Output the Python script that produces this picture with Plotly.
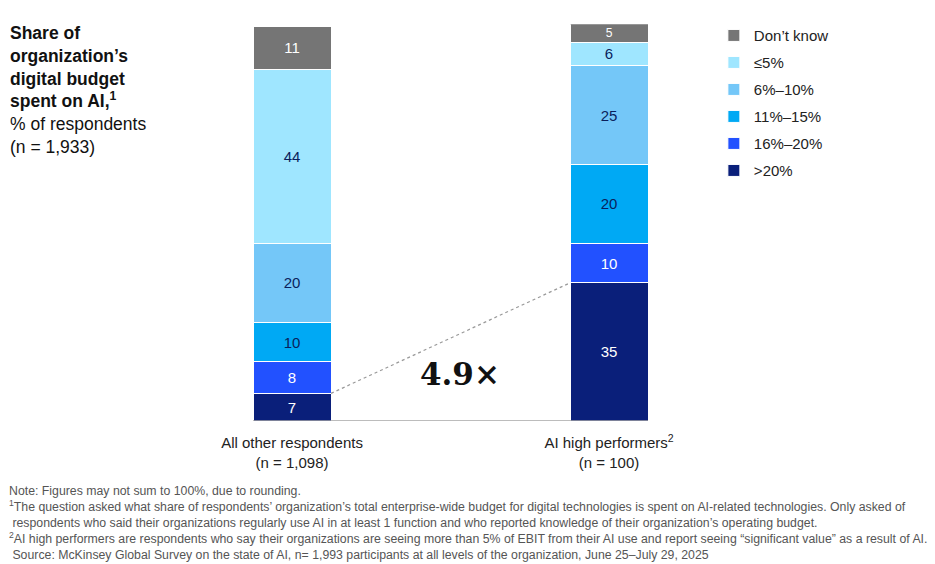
import plotly.graph_objects as go

groups = ["All other respondents<br>(n = 1,098)", "AI high performers<sup>2</sup><br>(n = 100)"]
bands = [">20%", "16%–20%", "11%–15%", "6%–10%", "≤5%", "Don’t know"]
all_other = [7, 8, 10, 20, 44, 11]
high_perf = [35, 10, 20, 25, 6, 5]
ratio_label = "4.9×"
colors = ["#0a1f7a", "#2251ff", "#00a9f4", "#74c7f8", "#9fe6ff", "#757575"]
text_colors = ["white", "white", "#0a1f5c", "#0a1f5c", "#0a1f5c", "white"]

BAR_W = 0.246
SANS = "Liberation Sans, Arial, sans-serif"

fig = go.Figure()
for i, band in enumerate(bands):
    fig.add_trace(go.Bar(
        name=band,
        legendgroup=band,
        legendrank=len(bands) - i,
        x=groups,
        y=[all_other[i], high_perf[i]],
        marker=dict(color=colors[i], line=dict(color="white", width=1)),
        width=BAR_W,
        text=[all_other[i], high_perf[i]],
        textposition="inside",
        insidetextanchor="middle",
        textangle=0,
        textfont=dict(color=text_colors[i], size=15, family=SANS),
        hoverinfo="skip",
    ))

# baseline
fig.add_shape(type="line", xref="x", yref="y", x0=-BAR_W / 2, x1=1 + BAR_W / 2, y0=0, y1=0,
              line=dict(color="#a6a6a6", width=1.5))
# dashed connector between the >20% segments
fig.add_shape(type="line", xref="x", yref="y", x0=BAR_W / 2, x1=1 - BAR_W / 2,
              y0=all_other[0], y1=high_perf[0],
              line=dict(color="#999999", width=1.2, dash="dot"))

fig.add_annotation(x=0.53, y=12, xref="x", yref="y", text=f"<b>{ratio_label}</b>", showarrow=False,
                   font=dict(family="DejaVu Serif, Liberation Serif, serif", size=31, color="#111111"))

fig.add_annotation(
    x=0.009, y=0.962, xref="paper", yref="paper", xanchor="left", yanchor="top", align="left",
    showarrow=False,
    text=("<b>Share of<br>organization’s<br>digital budget<br>spent on AI,<sup>1</sup></b><br>"
          "% of respondents<br>(n = 1,933)"),
    font=dict(family=SANS, size=17.5, color="#111111"),
)

notes = ("Note: Figures may not sum to 100%, due to rounding.<br>"
         "<sup>1</sup>The question asked what share of respondents’ organization’s total enterprise-wide budget for digital technologies is spent on AI-related technologies. Only asked of<br>"
         " respondents who said their organizations regularly use AI in at least 1 function and who reported knowledge of their organization’s operating budget.<br>"
         "<sup>2</sup>AI high performers are respondents who say their organizations are seeing more than 5% of EBIT from their AI use and report seeing “significant value” as a result of AI.<br>"
         " Source: McKinsey Global Survey on the state of AI, n= 1,993 participants at all levels of the organization, June 25–July 29, 2025")
fig.add_annotation(
    x=0.008, y=0.145, xref="paper", yref="paper", xanchor="left", yanchor="top", align="left",
    showarrow=False, text=notes,
    font=dict(family=SANS, size=12.3, color="#555555"),
)

fig.update_layout(
    width=935, height=564,
    margin=dict(l=0, r=0, t=0, b=0),
    paper_bgcolor="white", plot_bgcolor="white",
    barmode="stack",
    showlegend=True,
    legend=dict(x=0.7635, y=0.966, xanchor="left", yanchor="top",
                font=dict(family=SANS, size=15, color="#222222"),
                itemwidth=30, tracegroupgap=4.5, bgcolor="rgba(0,0,0,0)"),
    xaxis=dict(domain=[0.1428, 0.8209], range=[-0.5, 1.5], showgrid=False, showline=False,
               ticks="", ticklabelstandoff=11,
               tickfont=dict(family=SANS, size=15, color="#222222")),
    yaxis=dict(domain=[0.2535, 0.957], range=[0, 100.5], visible=False),
    font=dict(family=SANS),
)

fig.write_html("out.html", config={"displayModeBar": False},
               post_script="document.body.style.margin='0';")
